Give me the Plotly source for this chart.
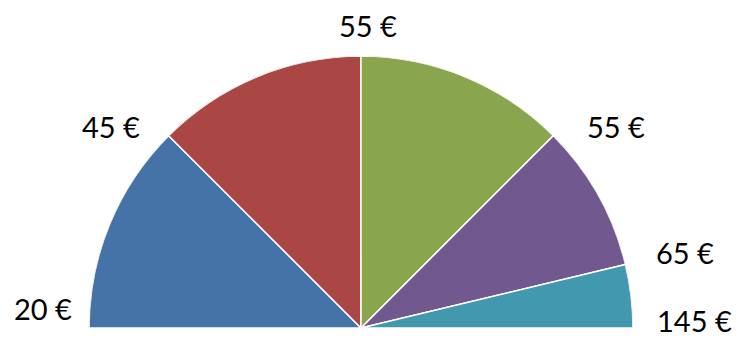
import plotly.graph_objects as go

# Slice sizes in degrees of the half circle, from left (180°) clockwise to right (0°)
slice_degrees = [45, 45, 45, 31.5, 13.5]
slice_colors = ["#4572A7", "#AA4643", "#89A54E", "#71588F", "#4198AF"]

# Boundary labels
labels = ["20 €", "45 €", "55 €", "55 €", "65 €", "145 €"]
# label centers in pixels (x, y from top)
label_px = [(43, 308), (111, 126), (368, 26), (616, 126), (685, 252), (694, 320)]

W, H = 740, 339

thetas = []
start = 180.0
for d in slice_degrees:
    thetas.append(start - d / 2)
    start -= d

fig = go.Figure()
fig.add_trace(go.Barpolar(
    r=[1] * len(slice_degrees),
    theta=thetas,
    width=slice_degrees,
    marker=dict(color=slice_colors, line=dict(color="white", width=1.5)),
    hoverinfo="skip",
))

for txt, (px, py) in zip(labels, label_px):
    fig.add_annotation(
        x=px / W, y=1 - py / H, xref="paper", yref="paper",
        text=txt, showarrow=False, xanchor="center", yanchor="middle",
        font=dict(family="Lato", size=29, color="#000000"),
    )

fig.update_layout(
    width=W, height=H,
    margin=dict(l=0, r=0, t=0, b=0),
    paper_bgcolor="white",
    showlegend=False,
    polar=dict(
        domain=dict(x=[89 / W, 633 / W], y=[11 / H, 283 / H]),
        sector=[0, 180],
        bgcolor="white",
        radialaxis=dict(visible=False, range=[0, 1]),
        angularaxis=dict(visible=False, direction="counterclockwise", rotation=0),
    ),
)

fig.write_html(
    "out.html",
    config={"displayModeBar": False},
    post_script="document.body.style.margin='0';document.body.style.overflow='hidden';",
)
